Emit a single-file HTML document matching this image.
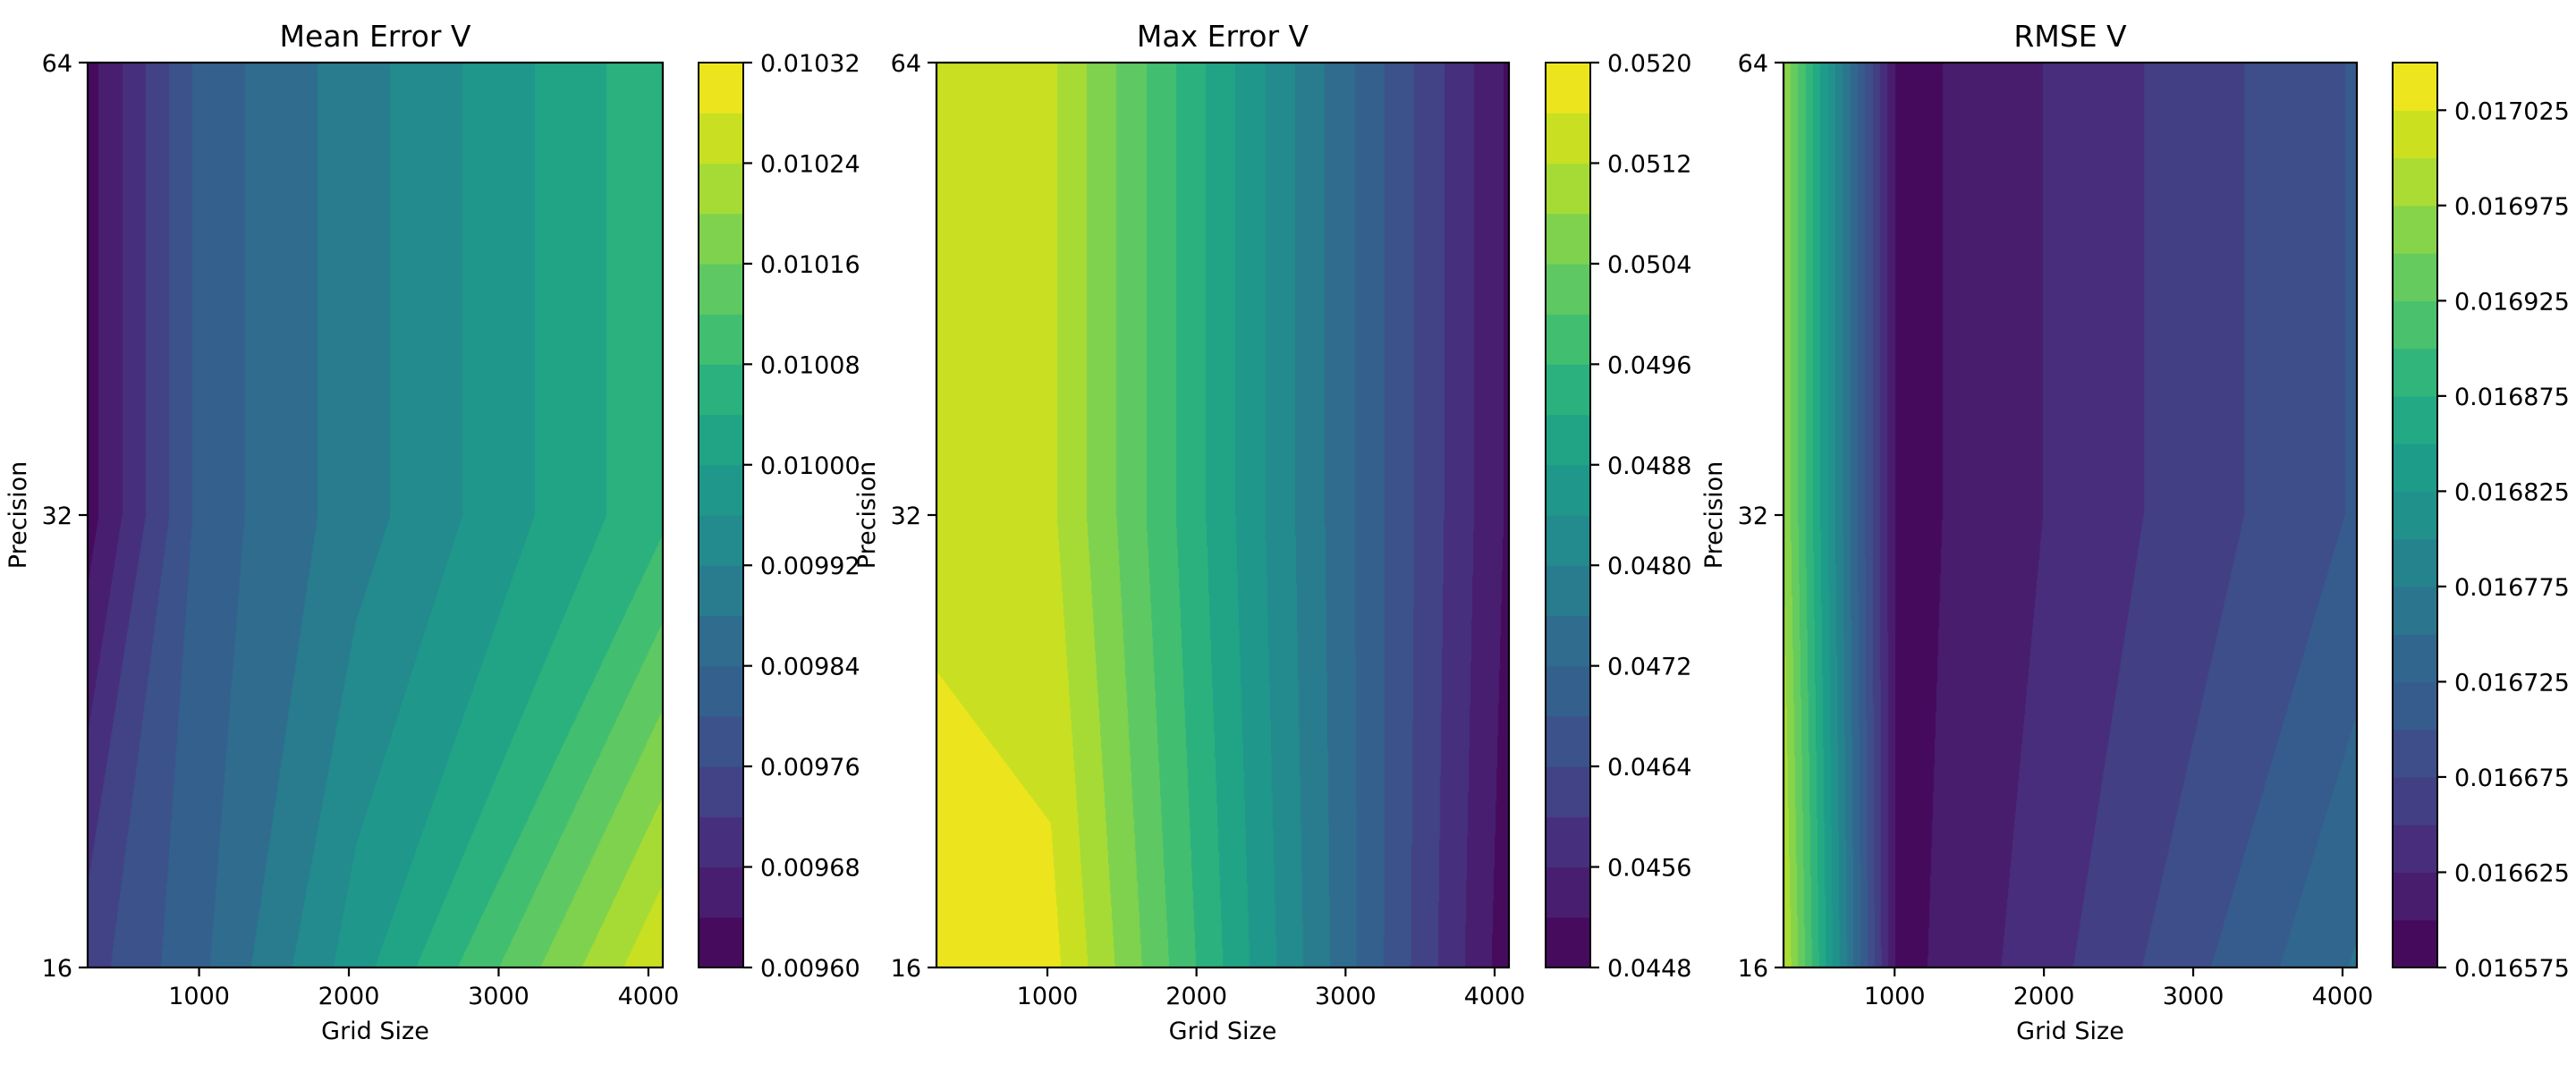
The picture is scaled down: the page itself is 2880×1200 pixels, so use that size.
<!DOCTYPE html>
<html><head><meta charset="utf-8">
<style>
html,body{margin:0;padding:0;background:#fff;}
#fig{position:relative;width:2880px;height:1200px;overflow:hidden;background:#fff;}
canvas{position:absolute;}
svg{position:absolute;left:0;top:0;}
text{font-family:"DejaVu Sans","Liberation Sans",sans-serif;fill:#000;}
</style></head>
<body>
<div id="fig">
<svg id="ov" width="2880" height="1200"></svg>
</div>
<script>
// ---- data ----
const gridX = [256, 1024, 2048, 4096];
const gridY = [16, 32, 64];
const meanErr = [
  [0.009742, 0.009833, 0.009982, 0.010278],
  [0.009621, 0.009817, 0.009901, 0.010071],
  [0.009621, 0.009817, 0.009901, 0.010071]
];
const maxErr = [
  [0.05179, 0.05175, 0.04949, 0.04494],
  [0.0515, 0.05128, 0.04923, 0.04513],
  [0.0515, 0.05128, 0.04923, 0.04513]
];
const rmse = [
  [0.017003, 0.01659, 0.016642, 0.016753],
  [0.016974, 0.016589, 0.016627, 0.016703],
  [0.016974, 0.016589, 0.016627, 0.016703]
];
const meanLevelRange = [0.00960, 0.01032, 18];
const maxLevelRange = [0.0448, 0.0520, 18];
const rmseLevelRange = [0.016575, 0.01705, 19];
const meanTicks = ["0.00960","0.00968","0.00976","0.00984","0.00992","0.01000","0.01008","0.01016","0.01024","0.01032"];
const maxTicks = ["0.0448","0.0456","0.0464","0.0472","0.0480","0.0488","0.0496","0.0504","0.0512","0.0520"];
const rmseTicks = ["0.016575","0.016625","0.016675","0.016725","0.016775","0.016825","0.016875","0.016925","0.016975","0.017025"];
const xTicks = [1000, 2000, 3000, 4000];
const yTicks = [16, 32, 64];
const titles = ["Mean Error V", "Max Error V", "RMSE V"];

const VIR = ["#440154","#471365","#482475","#46337f","#414487","#3b528b","#355f8d","#30698e","#2a788e","#25848e","#21918c","#1e9b8a","#22a884","#2eb37c","#44bf70","#5ec962","#7ad151","#9fda3a","#bddf26","#dfe318","#fde725"];
function hex(h){return [parseInt(h.substr(1,2),16),parseInt(h.substr(3,2),16),parseInt(h.substr(5,2),16)];}
const VRGB = VIR.map(hex);
function viridis(t){
  t=Math.max(0,Math.min(1,t));
  const f=t*(VRGB.length-1), i=Math.min(VRGB.length-2,Math.floor(f)), r=f-i;
  return VRGB[i].map((c,k)=>Math.round(c+(VRGB[i+1][k]-c)*r));
}
const panels = [
  {data: meanErr, lev: meanLevelRange, ticks: meanTicks, left: 98, w: 643, cb: 781, name: "mean-error"},
  {data: maxErr, lev: maxLevelRange, ticks: maxTicks, left: 1047, w: 640, cb: 1728, name: "max-error"},
  {data: rmse, lev: rmseLevelRange, ticks: rmseTicks, left: 1994, w: 641, cb: 2675, name: "rmse"}
];
const TOP = 70, H = 1012, CBW = 50;
const NS = "http://www.w3.org/2000/svg";
const ov = document.getElementById('ov');
const fig = document.getElementById('fig');

function xScale(p, x){ return p.left + (x - gridX[0]) / (gridX[gridX.length-1] - gridX[0]) * p.w; }
function yIdxScale(idx){ return TOP + H - idx / (gridY.length-1) * H; }
function yScale(y){ return yIdxScale(Math.log2(y / gridY[0])); }

function mk(tag, attrs, parent){
  const e = document.createElementNS(NS, tag);
  for (const k in attrs) e.setAttribute(k, attrs[k]);
  (parent||ov).appendChild(e);
  return e;
}
function txt(x, y, s, size, anchor, parent){
  const t = mk('text', {x:x, y:y, 'font-size':size, 'text-anchor':anchor}, parent);
  t.textContent = s;
  return t;
}

panels.forEach((p, pi) => {
  const g = mk('g', {});
  
  
  const [l0, l1, n] = p.lev;
  const step = (l1 - l0) / n;
  const cv = document.createElement('canvas');
  
  
  const W = Math.round(p.w);
  cv.width = W; cv.height = H;
  cv.style.left = p.left + 'px'; cv.style.top = TOP + 'px';
  const ctx = cv.getContext('2d');
  const img = ctx.createImageData(W, H);
  const colors = [];
  for (let i = 0; i < n; i++) colors.push(viridis((i + 0.5) / n));
  const gxp = gridX.map(x => xScale(p, x) - p.left);
  const gyp = gridY.map((y, j) => H - j * H / (gridY.length - 1));
  const d = p.data;
  const quads = [];
  for (let j = 0; j < gridY.length - 1; j++) {
    quads.push([]);
    for (let i = 0; i < gridX.length - 1; i++) {
      const P = [[gxp[i], gyp[j], d[j][i]], [gxp[i+1], gyp[j], d[j][i+1]],
                 [gxp[i+1], gyp[j+1], d[j+1][i+1]], [gxp[i], gyp[j+1], d[j+1][i]]];
      const lv = [];
      for (let k = 1; k < n; k++) {
        const L = l0 + k*step;
        const pts = [];
        for (let e = 0; e < 4; e++) {
          const A = P[e], B = P[(e+1)%4];
          const a = A[2]-L, b = B[2]-L;
          if ((a < 0) !== (b < 0)) { const t = a/(a-b); pts.push([A[0]+(B[0]-A[0])*t, A[1]+(B[1]-A[1])*t]); }
        }
        if (pts.length === 0) lv.push({t:0, hi: P[0][2] >= L});
        else if (pts.length === 2) {
          const [x1,y1] = pts[0], [x2,y2] = pts[1];
          let a = y2-y1, b = x1-x2, c = -(a*x1 + b*y1);
          let best = 0, bd = -1;
          for (let q = 0; q < 4; q++) { const dd = Math.abs(a*P[q][0]+b*P[q][1]+c); if (dd > bd) { bd = dd; best = q; } }
          const s = a*P[best][0]+b*P[best][1]+c;
          if ((P[best][2] >= L) !== (s >= 0)) { a=-a; b=-b; c=-c; }
          lv.push({t:1, a:a, b:b, c:c});
        } else lv.push({t:2, L:L});
      }
      quads[j].push({P:P, lv:lv});
    }
  }
  for (let py = 0; py < H; py++) {
    const yy = py + 0.5;
    const fy = (H - yy) / H * (gridY.length - 1);
    const j = Math.min(gridY.length - 2, Math.floor(fy)); const ty = fy - j;
    let i = 0;
    for (let px = 0; px < W; px++) {
      const xx = px + 0.5;
      while (i < gxp.length - 2 && xx > gxp[i+1]) i++;
      const Q = quads[j][i];
      let cnt = 0;
      for (let k = 0; k < Q.lv.length; k++) {
        const o = Q.lv[k];
        if (o.t === 0) { if (o.hi) cnt++; }
        else if (o.t === 1) { if (o.a*xx + o.b*yy + o.c >= 0) cnt++; }
        else {
          const tx = Math.max(0, Math.min(1, (xx - gxp[i]) / (gxp[i+1] - gxp[i])));
          const v = (d[j][i]*(1-tx) + d[j][i+1]*tx)*(1-ty) + (d[j+1][i]*(1-tx) + d[j+1][i+1]*tx)*ty;
          if (v >= o.L) cnt++;
        }
      }
      const b = Math.max(0, Math.min(n-1, cnt));
      const c = colors[b], off = (py * W + px) * 4;
      img.data[off] = c[0]; img.data[off+1] = c[1]; img.data[off+2] = c[2]; img.data[off+3] = 255;
    }
  }
  ctx.putImageData(img, 0, 0);
  fig.insertBefore(cv, ov);
  const fr = mk('rect', {x:p.left, y:TOP, width:p.w, height:H, fill:'none', stroke:'#000', 'stroke-width':2.2}, g);
  
  
  xTicks.forEach(v => {
    const x = xScale(p, v);
    mk('line', {x1:x, x2:x, y1:TOP+H, y2:TOP+H+10, stroke:'#000', 'stroke-width':2.2}, g);
    const t = txt(x, TOP+H+41, String(v), 27, 'middle', g);
    
    
  });
  yTicks.forEach(v => {
    const y = yScale(v);
    mk('line', {x1:p.left-10, x2:p.left, y1:y, y2:y, stroke:'#000', 'stroke-width':2.2}, g);
    const t = txt(p.left-17, y+10, String(v), 27, 'end', g);
    
    
  });
  const tt = txt(p.left + p.w/2, 52, titles[pi], 33, 'middle', g);
  
  
  const xl = txt(p.left + p.w/2, 1162, 'Grid Size', 27, 'middle', g);
  
  
  const yl = txt(0, 0, 'Precision', 27, 'middle', g);
  yl.setAttribute('transform', 'translate(' + (p.left-69) + ',' + (TOP+H/2) + ') rotate(-90)');
  
  
  const cg = mk('g', {}, g);
  
  
  const cbY = v => TOP + H - (v - l0) / (l1 - l0) * H;
  for (let i = 0; i < n; i++) {
    const y0 = cbY(l0 + (i+1)*step), y1 = cbY(l0 + i*step);
    const c = colors[i];
    const r = mk('rect', {x:p.cb, y:y0, width:CBW, height:(y1-y0)+0.6, fill:'rgb('+c.join(',')+')'}, cg);
    
    
  }
  mk('rect', {x:p.cb, y:TOP, width:CBW, height:H, fill:'none', stroke:'#000', 'stroke-width':2}, cg);
  p.ticks.forEach(s => {
    const y = cbY(parseFloat(s));
    mk('line', {x1:p.cb+CBW, x2:p.cb+CBW+10, y1:y, y2:y, stroke:'#000', 'stroke-width':2.2}, cg);
    const t = txt(p.cb+CBW+19, y+10, s, 27, 'start', cg);
    
    
  });
});
</script>
</body></html>
